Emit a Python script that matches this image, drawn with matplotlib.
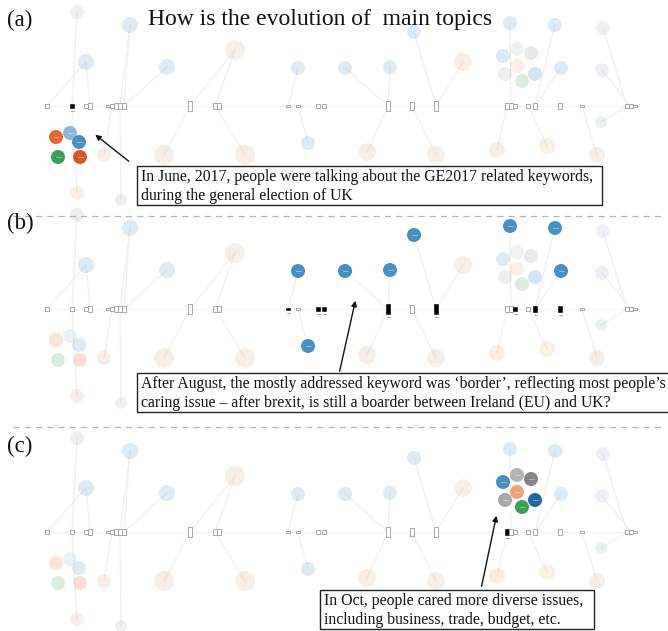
import matplotlib
matplotlib.use("Agg")
import matplotlib.pyplot as plt
from matplotlib.patches import Circle, Rectangle

# ---------------- data ----------------
# topic nodes (layout coordinates of panel a), category, size
node_x = [77, 130, 86, 167, 235, 298, 345, 390, 414, 463, 510, 555, 603, 561, 602, 601,
          308, 104, 164, 245, 367, 436, 497, 547, 597, 77, 121]
node_y = [12, 25, 62, 67, 50, 68, 68, 67, 32, 62, 23, 25, 28, 68, 70, 122,
          143, 155, 155, 155, 152, 155, 150, 146, 155, 193, 200]
node_cat = ["grey", "blue", "blue", "blue", "tan", "blue", "blue", "blue", "blue", "tan", "blue", "blue",
            "greyblue", "blue", "greyblue", "greygreen", "blue", "tan", "tan", "tan", "tan", "tan",
            "tan", "yellow", "tan", "tan", "grey"]
node_r = [7, 8, 8, 8, 10, 7, 7, 7, 7, 9, 7, 7, 7, 7, 7, 6, 7, 7, 10, 10, 9, 9, 8, 8, 8, 7, 6]
border_nodes = [5, 6, 7, 8, 10, 11, 13, 16]          # keyword 'border' (panel b)

# June cluster (GE2017) and October cluster
june_x = [56, 70, 79, 58, 80]
june_y = [137, 133, 142, 157, 157]
june_cat = ["orange", "lightblue", "blue", "green", "red"]
oct_x = [503, 517, 531, 517, 505, 522, 535]
oct_y = [56, 49, 53, 66, 74, 81, 74]
oct_cat = ["blue", "lightgrey", "darkgrey", "lightorange", "grey", "green", "darkblue"]

# timeline glyphs: x position and count (height)
glyph_x = [47, 72, 86, 90, 108, 112, 116, 120, 124, 190, 215, 219, 288, 298, 318, 324,
           388, 412, 436, 507, 511, 515, 528, 535, 560, 582, 627, 631, 635]
glyph_v = [3, 3, 3, 4, 2, 3, 4, 5, 4, 7, 5, 5, 2, 1, 3, 3,
           7, 6, 7, 4, 5, 3, 3, 4, 4, 1, 3, 3, 2]
glyph_black_a = [1]
glyph_black_b = [12, 14, 15, 16, 18, 21, 23, 24]
glyph_black_c = [19]

# edges: node index -> glyph index
edges = [(1, 7), (1, 8), (2, 0), (2, 3), (3, 8), (4, 10), (4, 9), (5, 12), (16, 13), (6, 16),
         (7, 16), (8, 18), (9, 18), (10, 20), (11, 23), (12, 26), (13, 23), (14, 27), (15, 26),
         (18, 9), (19, 10), (20, 16), (21, 17), (22, 19), (23, 22), (24, 25), (25, 1), (26, 7),
         (0, 1), (17, 5)]

panel_offsets = [0, 203, 426]
panel_labels = ["(a)", "(b)", "(c)"]
timeline_y = 106

colors = {
    "blue": "#4a8fc4", "tan": "#d7a77a", "grey": "#a8a8a8", "greyblue": "#9fb6c8",
    "greygreen": "#8fb8a8", "yellow": "#d9b56a", "orange": "#e5652b", "lightblue": "#8db8da",
    "green": "#3f9e55", "red": "#d9562a", "lightgrey": "#b5b5b5", "darkgrey": "#858585",
    "lightorange": "#eea575", "darkblue": "#2367a6",
}

annotations = [
    ("In June, 2017, people were talking about the GE2017 related keywords,\nduring the general election of UK",
     (137, 166, 465, 39), (131, 163), (93, 133)),
    ("After August, the mostly addressed keyword was \u2018border\u2019, reflecting most people\u2019s\ncaring issue \u2013 after brexit, is still a boarder between Ireland (EU) and UK?",
     (137, 373, 540, 39), (339, 374), (356, 298)),
    ("In Oct, people cared more diverse issues,\nincluding business, trade, budget, etc.",
     (320, 590, 274, 39), (481, 589), (497, 513)),
]

# ---------------- drawing ----------------
plt.rcParams['font.family'] = ['Liberation Serif', 'DejaVu Serif']
fig = plt.figure(figsize=(6.68, 6.31), dpi=100)
ax = fig.add_axes([0, 0, 1, 1])
ax.set_xlim(0, 668)
ax.set_ylim(631, 0)
ax.axis("off")

FAINT = 0.18


def node_mark(x, y):
    ax.plot([x - 2.5, x + 2.5], [y, y], color="white", lw=0.6, alpha=0.45, zorder=4)


for p, off in enumerate(panel_offsets):
    ty = timeline_y + off
    # faint timeline
    ax.plot([40, 640], [ty, ty], color="#f4f4f4", lw=0.8, zorder=1)
    # edges
    for ni, gi in edges:
        ax.plot([node_x[ni], glyph_x[gi]], [node_y[ni] + off, ty], color="#f0f0f0", lw=0.9, zorder=1)
    # nodes
    for i in range(len(node_x)):
        hl = (p == 1 and i in border_nodes)
        c = colors["blue"] if hl else colors[node_cat[i]]
        ax.add_patch(Circle((node_x[i], node_y[i] + off), node_r[i], facecolor=c,
                            edgecolor="none", alpha=1.0 if hl else FAINT, zorder=3 if hl else 2))
        if hl:
            node_mark(node_x[i], node_y[i] + off)
    for j in range(len(june_x)):
        hl = (p == 0)
        ax.add_patch(Circle((june_x[j], june_y[j] + off), 7, facecolor=colors[june_cat[j]],
                            edgecolor="none", alpha=1.0 if hl else FAINT, zorder=3))
        if hl:
            node_mark(june_x[j], june_y[j] + off)
    for j in range(len(oct_x)):
        hl = (p == 2)
        ax.add_patch(Circle((oct_x[j], oct_y[j] + off), 7, facecolor=colors[oct_cat[j]],
                            edgecolor="none", alpha=1.0 if hl else FAINT, zorder=3))
        if hl:
            node_mark(oct_x[j], oct_y[j] + off)
    # glyphs
    blacks = [glyph_black_a, glyph_black_b, glyph_black_c][p]
    for g in range(len(glyph_x)):
        h = 1.3 * glyph_v[g]
        if g in blacks:
            ax.add_patch(Rectangle((glyph_x[g] - 1.8, ty - h / 2), 3.6, h, facecolor="black",
                                   edgecolor="black", lw=0.4, zorder=5))
            ax.plot([glyph_x[g] - 1.5, glyph_x[g] + 1.5], [ty + h / 2 + 3] * 2, color="#999999", lw=0.6, zorder=5)
        else:
            ax.add_patch(Rectangle((glyph_x[g] - 1.8, ty - h / 2), 3.6, h, facecolor="white",
                                   edgecolor="#9a9a9a", lw=0.6, zorder=5))
    ax.text(7, 20 + off, panel_labels[p], fontsize=16.5, va="center", ha="left", color="#111111")

# separators
for ysep in [216, 427]:
    ax.plot([13, 662], [ysep, ysep], color="#a9b7c4", lw=0.9, ls=(0, (5, 4)), zorder=1)

# title
ax.text(148, 20, "How is the evolution of  main topics", fontsize=17, va="center", ha="left",
        color="#111111")

# annotations
for text, (bx, by, bw, bh), tail, head in annotations:
    ax.add_patch(Rectangle((bx, by), bw, bh, facecolor="white", edgecolor="#222222", lw=1.0, zorder=6))
    ax.text(bx + 4, by + bh / 2 + 1, text, fontsize=11.35, va="center", ha="left",
            linespacing=1.25, color="#111111", zorder=7)
    ax.annotate("", xy=head, xytext=tail,
                arrowprops=dict(arrowstyle="-|>", color="#111111", lw=1.0, mutation_scale=8), zorder=7)

fig.savefig("out.png", dpi=100)
